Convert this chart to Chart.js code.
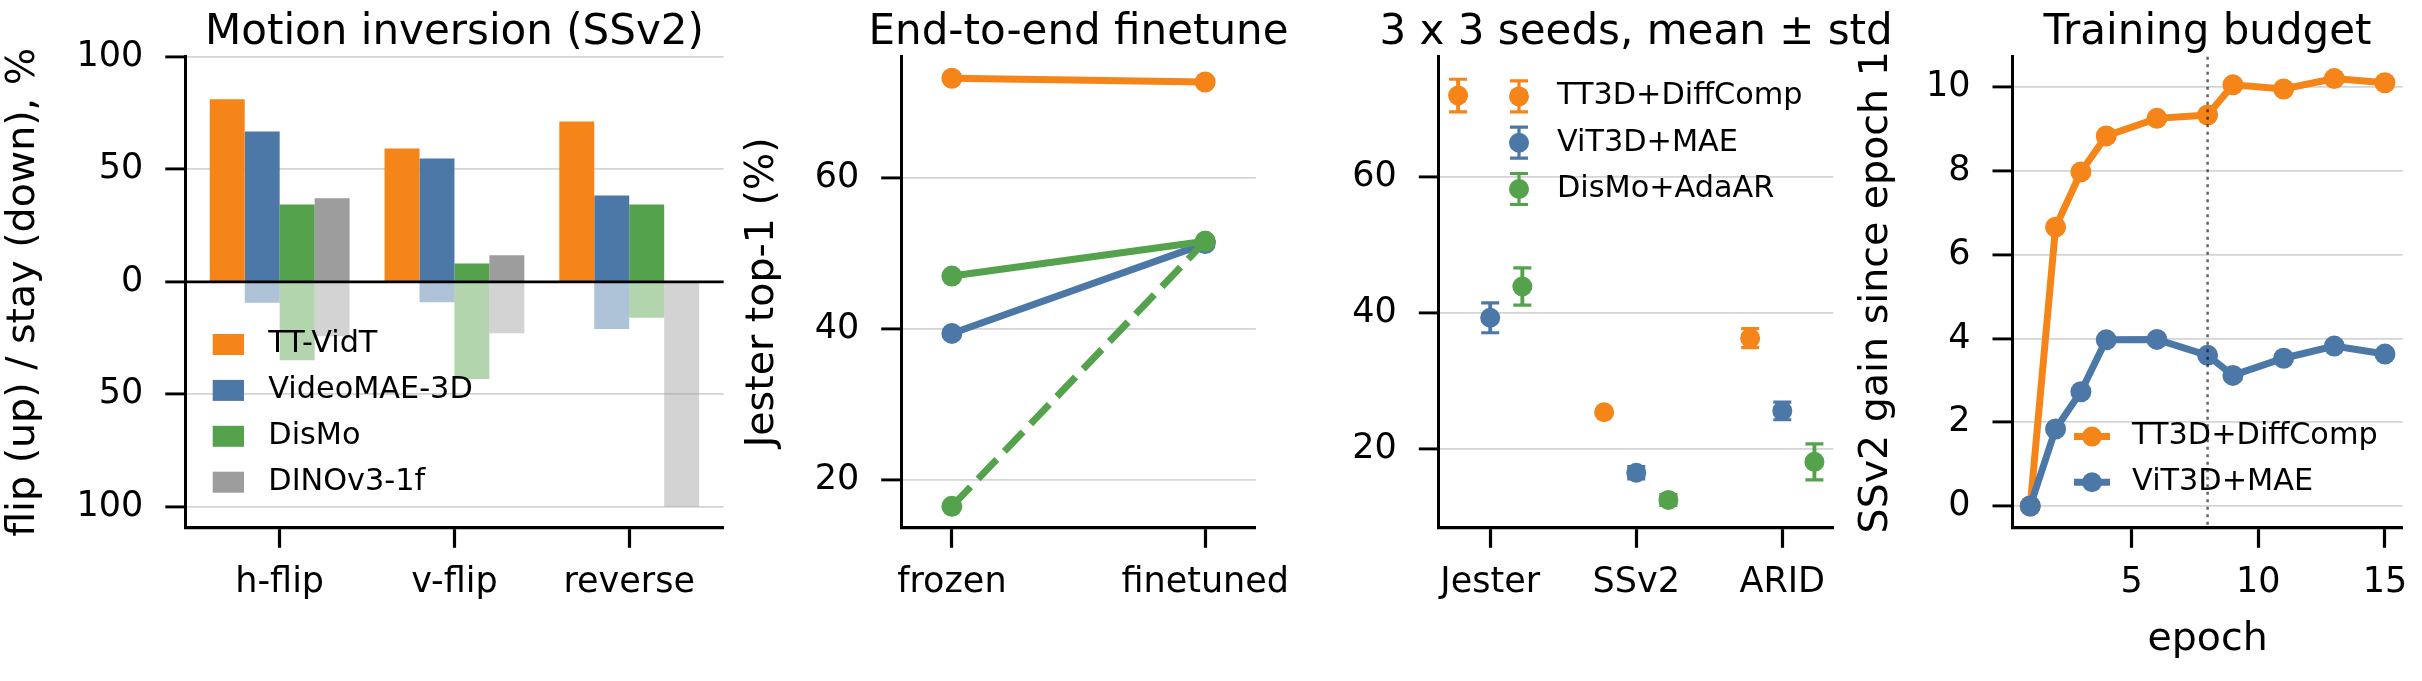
<!DOCTYPE html>
<html>
<head>
<meta charset="utf-8">
<script src="https://cdn.jsdelivr.net/npm/chart.js@4.4.1/dist/chart.umd.min.js"></script>
<style>
html, body { margin: 0; padding: 0; background: #fff; }
#fig { position: relative; width: 2422px; height: 681px; overflow: hidden; }
#fig canvas { position: absolute; top: 0; }
</style>
</head>
<body>
<div id="fig">
  <canvas id="motion" width="760" height="681" style="left:0px"></canvas>
  <canvas id="e2e" width="580" height="681" style="left:730px"></canvas>
  <canvas id="seeds" width="610" height="681" style="left:1300px"></canvas>
  <canvas id="budget" width="582" height="681" style="left:1840px"></canvas>
</div>
<script>
// ---- data ----
const motionCategories = ['h-flip', 'v-flip', 'reverse'];
const motionMethods = ['TT-VidT', 'VideoMAE-3D', 'DisMo', 'DINOv3-1f'];
const flipTT = [81.1, 59.3, 71.2];
const flipVideoMAE = [66.8, 54.8, 38.4];
const flipDisMo = [34.4, 8.1, 34.4];
const flipDINO = [37.1, 11.8, 0];
const stayTT = [0, 0, 0];
const stayVideoMAE = [9.3, 9.1, 21.0];
const stayDisMo = [34.8, 43.2, 16.0];
const stayDINO = [24.2, 22.8, 100];
const motionTicks = [-100, -50, 0, 50, 100];

const e2eStages = ['frozen', 'finetuned'];
const e2eTT = [73.2, 72.7];
const e2eViT = [39.4, 51.3];
const e2eDisMo = [47.0, 51.6];
const e2eDisMoDashed = [16.5, 51.6];
const e2eTicks = [20, 40, 60];

const seedSets = ['Jester', 'SSv2', 'ARID'];
const seedMethods = ['TT3D+DiffComp', 'ViT3D+MAE', 'DisMo+AdaAR'];
const seedMeanTT = [72.0, 25.4, 36.3];
const seedStdTT = [2.4, 0.3, 1.4];
const seedMeanViT = [39.3, 16.5, 25.6];
const seedStdViT = [2.2, 0.9, 1.3];
const seedMeanDisMo = [43.9, 12.5, 18.1];
const seedStdDisMo = [2.75, 0.8, 2.65];
const seedTicks = [20, 40, 60];

const epochs = [1, 2, 3, 4, 6, 8, 9, 11, 13, 15];
const gainTT = [0, 6.66, 7.98, 8.84, 9.26, 9.34, 10.06, 9.96, 10.21, 10.11];
const gainViT = [0, 1.84, 2.73, 3.97, 3.98, 3.60, 3.12, 3.53, 3.82, 3.63];
const epochTicks = [5, 10, 15];
const gainTicks = [0, 2, 4, 6, 8, 10];
const budgetEpoch = 8;

// ---- style ----
const ORANGE = '#f58518', BLUE = '#4c78a8', GREEN = '#54a24b', GRAY = '#9d9d9d';
const FONT = 'DejaVu Sans';
const AXES_TOP = 56.8;
const XAXIS_H = 681 - 527.8;
const LINE_W = 7;
Chart.defaults.font.family = FONT;
Chart.defaults.color = '#000';

function fade(hex, a) {
    const n = parseInt(hex.slice(1), 16);
    return `rgba(${(n >> 16) & 255},${(n >> 8) & 255},${n & 255},${a})`;
}

function yAxis(width, min, max, ticks, title, titlePad) {
    return {
        min, max,
        afterFit: s => { s.width = width; },
        afterBuildTicks: s => { s.ticks = ticks.map(v => ({ value: v })); },
        grid: { color: '#d4d4d4', lineWidth: 1.8, tickColor: '#000', tickWidth: 2.9, tickLength: 20 },
        border: { color: '#000', width: 3 },
        ticks: { font: { size: 35 }, color: '#000', padding: 22 },
        title: title ? { display: true, text: title, color: '#000', font: { size: 39.5 }, padding: { top: titlePad, bottom: 0 } } : { display: false }
    };
}

function xAxis(min, max, ticks, labels, title) {
    return {
        type: 'linear', min, max, offset: false,
        afterFit: s => { s.height = XAXIS_H; },
        afterBuildTicks: s => { s.ticks = ticks.map(v => ({ value: v })); },
        grid: { drawOnChartArea: false, offset: false, tickColor: '#000', tickWidth: 3.2, tickLength: 20 },
        border: { color: '#000', width: 3.2 },
        ticks: { font: { size: 35 }, color: '#000', padding: 14, maxRotation: 0, autoSkip: false,
                 callback: v => labels ? labels[v] : v },
        title: title ? { display: true, text: title, color: '#000', font: { size: 39.5 }, padding: { top: 0, bottom: 17.7 } } : { display: false }
    };
}

function baseOptions(padRight) {
    return {
        responsive: false,
        animation: false,
        events: [],
        layout: { padding: { left: 0, top: AXES_TOP, right: padRight, bottom: 0 } }
    };
}

const panelTitle = {
    id: 'panelTitle',
    afterDraw(chart, args, o) {
        if (!o.text) return;
        const { ctx, chartArea } = chart;
        ctx.save();
        ctx.font = `${o.size}px "${FONT}"`;
        ctx.fillStyle = '#000';
        ctx.textAlign = 'center';
        ctx.textBaseline = 'alphabetic';
        ctx.fillText(o.text, (chartArea.left + chartArea.right) / 2, o.baseline);
        ctx.restore();
    }
};

const panelLegend = {
    id: 'panelLegend',
    afterDraw(chart, args, o) {
        if (!o.items) return;
        const ctx = chart.ctx;
        ctx.save();
        ctx.font = `${o.size}px "${FONT}"`;
        ctx.textAlign = 'left';
        ctx.textBaseline = 'middle';
        o.items.forEach((it, i) => {
            const y = o.y + i * o.dy;
            ctx.fillStyle = it.color;
            ctx.strokeStyle = it.color;
            if (o.kind === 'rect') {
                ctx.fillRect(o.x, y - o.h / 2, o.w, o.h);
            } else if (o.kind === 'errorbar') {
                ctx.lineWidth = 3.2;
                ctx.beginPath();
                ctx.moveTo(o.x, y - o.err); ctx.lineTo(o.x, y + o.err);
                ctx.moveTo(o.x - o.cap, y - o.err); ctx.lineTo(o.x + o.cap, y - o.err);
                ctx.moveTo(o.x - o.cap, y + o.err); ctx.lineTo(o.x + o.cap, y + o.err);
                ctx.stroke();
                ctx.beginPath(); ctx.arc(o.x, y, o.r, 0, Math.PI * 2); ctx.fill();
            } else if (o.kind === 'line') {
                ctx.lineWidth = LINE_W;
                ctx.beginPath(); ctx.moveTo(o.x1, y); ctx.lineTo(o.x2, y); ctx.stroke();
                ctx.beginPath(); ctx.arc((o.x1 + o.x2) / 2, y, o.r, 0, Math.PI * 2); ctx.fill();
            }
            ctx.fillStyle = '#000';
            ctx.fillText(it.label, o.textX, y);
        });
        ctx.restore();
    }
};

const refLines = {
    id: 'refLines',
    afterDatasetsDraw(chart, args, o) {
        if (!o.lines) return;
        const { ctx, chartArea: a, scales } = chart;
        o.lines.forEach(l => {
            ctx.save();
            ctx.strokeStyle = l.color;
            ctx.lineWidth = l.width;
            ctx.setLineDash(l.dash || []);
            ctx.beginPath();
            if (l.axis === 'y') {
                const y = scales.y.getPixelForValue(l.value);
                ctx.moveTo(a.left, y); ctx.lineTo(a.right, y);
            } else {
                const x = scales.x.getPixelForValue(l.value);
                ctx.moveTo(x, a.top); ctx.lineTo(x, a.bottom);
            }
            ctx.stroke();
            ctx.restore();
        });
    }
};

// ---- panel 1: motion inversion ----
const motionColors = [ORANGE, BLUE, GREEN, GRAY];
const flipSeries = [flipTT, flipVideoMAE, flipDisMo, flipDINO];
const staySeries = [stayTT, stayVideoMAE, stayDisMo, stayDINO];
const motionDatasets = [];
motionMethods.forEach((m, k) => {
    motionDatasets.push({ label: m, stack: m, backgroundColor: motionColors[k],
        data: flipSeries[k].map((v, i) => ({ x: i, y: v })) });
    motionDatasets.push({ label: m + ' (stay)', stack: m, backgroundColor: fade(motionColors[k], 0.45),
        data: staySeries[k].map((v, i) => ({ x: i, y: -v })) });
});

const motionY = yAxis(185.3, -109.3, 100, motionTicks, 'flip (up) / stay (down), %', 0);
motionY.stacked = true;
motionY.ticks.callback = v => Math.abs(v);
const motionX = xAxis(-0.54, 2.54, [0, 1, 2], motionCategories, null);
motionX.stacked = true;

new Chart(document.getElementById('motion'), {
    type: 'bar',
    data: { datasets: motionDatasets },
    options: {
        ...baseOptions(760 - 723.6),
        datasets: { bar: { categoryPercentage: 0.8, barPercentage: 1.0, borderWidth: 0 } },
        scales: { x: motionX, y: motionY },
        plugins: {
            legend: { display: false }, tooltip: { enabled: false },
            panelTitle: { text: 'Motion inversion (SSv2)', size: 42, baseline: 44 },
            panelLegend: { kind: 'rect', x: 212.7, w: 31.3, h: 21, textX: 268.3, y: 344.5, dy: 45.9, size: 30.3,
                items: motionMethods.map((m, k) => ({ label: m, color: motionColors[k] })) },
            refLines: { lines: [{ axis: 'y', value: 0, color: '#000', width: 2.8 }] }
        }
    },
    plugins: [panelTitle, panelLegend, refLines]
});

// ---- panel 2: end-to-end finetune ----
function lineSet(label, xs, vals, color, order, dash) {
    return {
        label, order,
        data: vals.map((v, i) => ({ x: xs[i], y: v })),
        borderColor: color, backgroundColor: color,
        borderWidth: LINE_W, borderDash: dash || [],
        pointRadius: 10.5, pointBorderWidth: 0, pointBackgroundColor: color,
        tension: 0
    };
}
const stageX = e2eStages.map((s, i) => i);

new Chart(document.getElementById('e2e'), {
    type: 'line',
    data: { datasets: [
        lineSet('TT-VidT', stageX, e2eTT, ORANGE, 3),
        lineSet('VideoMAE-3D', stageX, e2eViT, BLUE, 2),
        lineSet('DisMo', stageX, e2eDisMo, GREEN, 1),
        lineSet('DisMo (dashed)', stageX, e2eDisMoDashed, GREEN, 0, [27, 11])
    ] },
    options: {
        ...baseOptions(580 - 531),
        scales: {
            x: xAxis(-0.2, 1.2, stageX, e2eStages, null),
            y: yAxis(171.2, 13.66, 76.04, e2eTicks, 'Jester top-1 (%)', 9.1)
        },
        plugins: {
            legend: { display: false }, tooltip: { enabled: false },
            panelTitle: { text: 'End-to-end finetune', size: 42, baseline: 44 }
        }
    },
    plugins: [panelTitle]
});

// ---- panel 3: seeds mean ± std ----
const seedOffsets = [-0.22, 0, 0.22];
const seedColors = [ORANGE, BLUE, GREEN];
const seedMeans = [seedMeanTT, seedMeanViT, seedMeanDisMo];
const seedStds = [seedStdTT, seedStdViT, seedStdDisMo];
const whiskers = [], whiskerColors = [], caps = [], capColors = [];
seedMethods.forEach((m, k) => {
    seedSets.forEach((s, i) => {
        const x = i + seedOffsets[k];
        const lo = seedMeans[k][i] - seedStds[k][i];
        const hi = seedMeans[k][i] + seedStds[k][i];
        whiskers.push({ x, y: [lo, hi] });
        whiskerColors.push(seedColors[k]);
        caps.push({ x, y: lo }, { x, y: hi });
        capColors.push(seedColors[k], seedColors[k]);
    });
});
const seedDatasets = seedMethods.map((m, k) => ({
    type: 'scatter', label: m, order: 0,
    data: seedSets.map((s, i) => ({ x: i + seedOffsets[k], y: seedMeans[k][i] })),
    pointRadius: 10, pointBorderWidth: 0, pointBackgroundColor: seedColors[k], backgroundColor: seedColors[k]
}));
seedDatasets.push({ type: 'scatter', label: 'caps', order: 1, data: caps,
    pointStyle: 'line', pointRadius: 9, pointBorderWidth: 3.2, pointBorderColor: capColors });
seedDatasets.push({ type: 'bar', label: 'std', order: 2, data: whiskers,
    backgroundColor: whiskerColors, barThickness: 3.2, borderWidth: 0 });

new Chart(document.getElementById('seeds'), {
    type: 'scatter',
    data: { datasets: seedDatasets },
    options: {
        ...baseOptions(610 - 533.4),
        scales: {
            x: xAxis(-0.352, 2.35, [0, 1, 2], seedSets, null),
            y: yAxis(138.8, 8.4, 77.7, seedTicks, null, 0)
        },
        plugins: {
            legend: { display: false }, tooltip: { enabled: false },
            panelTitle: { text: '3 x 3 seeds, mean \u00b1 std', size: 42, baseline: 44 },
            panelLegend: { kind: 'errorbar', x: 219, r: 10, err: 15.5, cap: 9, textX: 257, y: 96.4, dy: 46.3, size: 30.3,
                items: seedMethods.map((m, k) => ({ label: m, color: seedColors[k] })) }
        }
    },
    plugins: [panelTitle, panelLegend]
});

// ---- panel 4: training budget ----
new Chart(document.getElementById('budget'), {
    type: 'line',
    data: { datasets: [
        lineSet('TT3D+DiffComp', epochs, gainTT, ORANGE, 1),
        lineSet('ViT3D+MAE', epochs, gainViT, BLUE, 0)
    ] },
    options: {
        ...baseOptions(582 - 565),
        scales: {
            x: xAxis(0.3, 15.7, epochTicks, null, 'epoch'),
            y: yAxis(172.5, -0.52, 10.73, gainTicks, 'SSv2 gain since epoch 1', 12.8)
        },
        plugins: {
            legend: { display: false }, tooltip: { enabled: false },
            panelTitle: { text: 'Training budget', size: 42, baseline: 44 },
            panelLegend: { kind: 'line', x1: 234, x2: 270, r: 10, textX: 292.1, y: 436.6, dy: 45.6, size: 30.3,
                items: [{ label: 'TT3D+DiffComp', color: ORANGE }, { label: 'ViT3D+MAE', color: BLUE }] },
            refLines: { lines: [{ axis: 'x', value: budgetEpoch, color: 'rgba(0,0,0,0.6)', width: 2.5, dash: [3, 4.5] }] }
        }
    },
    plugins: [panelTitle, panelLegend, refLines]
});
</script>
</body>
</html>
